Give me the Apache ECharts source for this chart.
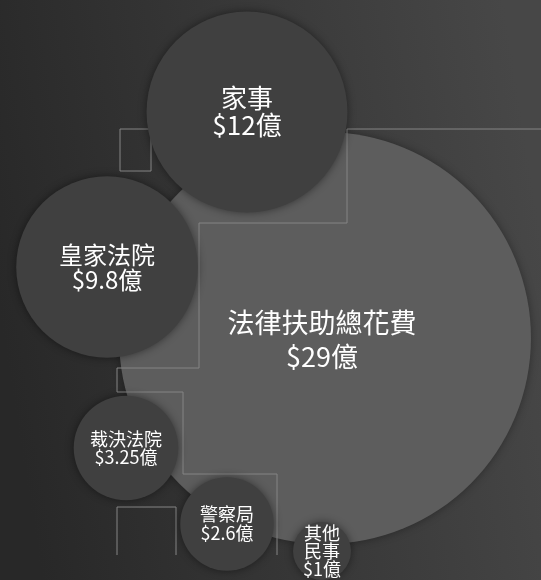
<!DOCTYPE html>
<html>
<head>
<meta charset="utf-8">
<title>法律扶助總花費</title>
<script src="https://cdn.jsdelivr.net/npm/echarts@6/dist/echarts.min.js"></script>
<style>
  html, body { margin: 0; padding: 0; }
  #chart { width: 541px; height: 580px; }
</style>
</head>
<body>
<div id="chart"></div>
<script>
// 總額
var totalName = '法律扶助總花費';
var totalValue = 29;
var totalCenter = [325, 338];

// 各項花費（億）
var partNames = ['家事', '皇家法院', '裁決法院', '警察局', '其他\n民事'];
var partValues = [12, 9.8, 3.25, 2.6, 1];
// 泡泡位置（畫布座標）
var partCenterX = [247, 107, 126, 227, 322];
var partCenterY = [112, 267, 448, 524, 551];

// 裝飾線
var stairLine = [[541, 129], [347, 129], [347, 223], [199, 223], [199, 368], [117, 368],
  [117, 392], [183, 392], [183, 474], [277, 474], [277, 555]];
var boxLine = [[120, 129], [151, 129], [151, 171], [120, 171], [120, 129]];
var openBoxLine = [[117, 555], [117, 507], [176, 507], [176, 555]];

var myChart = echarts.init(document.getElementById('chart'));

// 字級：家事、皇家法院較大，其餘較小
var labelSizes = [26, 24, 18, 18, 18];
var labelLines = [27, 25, 18, 19, 18];

var partData = partNames.map(function (n, i) {
  return {
    name: n,
    value: [partCenterX[i], partCenterY[i], partValues[i]],
    label: { fontSize: labelSizes[i], lineHeight: labelLines[i] }
  };
});

function lineSeries(points) {
  return {
    type: 'line',
    data: points,
    symbol: 'none',
    z: 2,
    silent: true,
    lineStyle: { color: '#858585', width: 1 }
  };
}

var font = '"Noto Sans CJK TC", "Noto Sans", sans-serif';

var option = {
  backgroundColor: {
    type: 'linear', x: 0, y: 0.55, x2: 1, y2: 0.4,
    colorStops: [{ offset: 0, color: '#282828' }, { offset: 1, color: '#474747' }]
  },
  animation: false,
  grid: { left: 0, right: 0, top: 0, bottom: 0 },
  xAxis: { type: 'value', min: 0, max: 541, show: false },
  yAxis: { type: 'value', min: 0, max: 580, inverse: true, show: false },
  series: [
    {
      type: 'scatter',
      z: 1,
      data: [{ name: totalName, value: [totalCenter[0], totalCenter[1], totalValue] }],
      symbolSize: function (v) { return Math.sqrt(v[2]) * 76.5; },
      itemStyle: { color: '#5d5d5d', opacity: 1, shadowBlur: 8, shadowColor: 'rgba(0,0,0,0.35)' },
      label: {
        show: true,
        position: 'inside',
        color: '#fff',
        fontFamily: font,
        fontSize: 27,
        lineHeight: 34,
        offset: [-3, 2],
        formatter: function (p) { return p.name + '\n$' + p.value[2] + '億'; }
      }
    },
    lineSeries(stairLine),
    lineSeries(boxLine),
    lineSeries(openBoxLine),
    {
      type: 'scatter',
      z: 3,
      data: partData,
      symbolSize: function (v) { return Math.sqrt(v[2]) * 58; },
      itemStyle: { color: '#404040', opacity: 1, shadowBlur: 8, shadowColor: 'rgba(0,0,0,0.45)' },
      label: {
        show: true,
        position: 'inside',
        color: '#fff',
        fontFamily: font,
        formatter: function (p) { return p.name + '\n$' + p.value[2] + '億'; }
      }
    }
  ]
};

myChart.setOption(option);
</script>
</body>
</html>
